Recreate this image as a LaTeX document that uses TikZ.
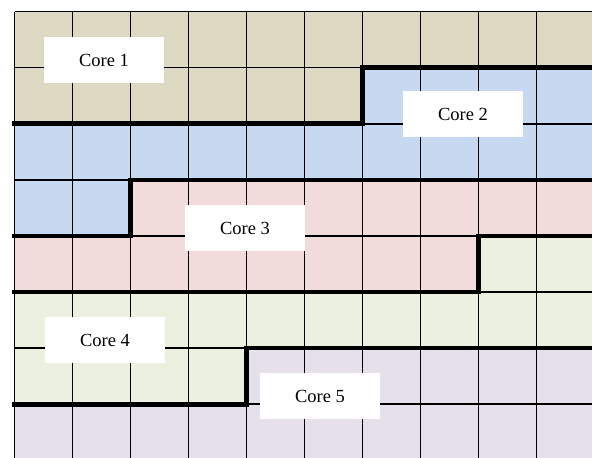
\documentclass[tikz,border=0pt]{standalone}
\usepackage{fontspec}
\setmainfont{Liberation Serif}
\definecolor{cone}{HTML}{DDD9C3}
\definecolor{ctwo}{HTML}{C6D9F1}
\definecolor{cthree}{HTML}{F2DCDB}
\definecolor{cfour}{HTML}{EBF1DE}
\definecolor{cfive}{HTML}{E5E0EC}
\tikzset{
  gridline/.style={black, line width=1.7pt},
  boundary/.style={black, line width=4.6pt, line join=miter, line cap=rect},
  corelabel/.style={fill=white, draw=none, minimum width=120pt, minimum height=46pt, inner sep=0pt, font=\fontsize{18.5}{22}\selectfont},
}
\begin{document}
\begin{tikzpicture}
\useasboundingbox (0,0) rectangle (592pt,-458pt);
\fill[white] (0,0) rectangle (592pt,-458pt);
\clip (0,0) rectangle (592pt,-458pt);
\begin{scope}[shift={(14.5pt,-11.5pt)}, x=58pt, y=-56.1pt]
  \def\R{10.5}
  \def\B{8.5}
  % regions
  \fill[cone] (0,0) -- (\R,0) -- (\R,1) -- (6,1) -- (6,2) -- (0,2) -- cycle;
  \fill[ctwo] (6,1) -- (\R,1) -- (\R,3) -- (2,3) -- (2,4) -- (0,4) -- (0,2) -- (6,2) -- cycle;
  \fill[cthree] (2,3) -- (\R,3) -- (\R,4) -- (8,4) -- (8,5) -- (0,5) -- (0,4) -- (2,4) -- cycle;
  \fill[cfour] (8,4) -- (\R,4) -- (\R,6) -- (4,6) -- (4,7) -- (0,7) -- (0,5) -- (8,5) -- cycle;
  \fill[cfive] (4,6) -- (\R,6) -- (\R,\B) -- (0,\B) -- (0,7) -- (4,7) -- cycle;
  % grid
  \foreach \i in {0,...,9} \draw[gridline] (\i,0) -- (\i,\B);
  \foreach \k in {0,...,7} \draw[gridline] (0,\k) -- (\R,\k);
  % core boundaries
  \draw[boundary] (0,2) -- (6,2) -- (6,1) -- (\R,1);
  \draw[boundary] (0,4) -- (2,4) -- (2,3) -- (\R,3);
  \draw[boundary] (0,5) -- (8,5) -- (8,4) -- (\R,4);
  \draw[boundary] (0,7) -- (4,7) -- (4,6) -- (\R,6);
\end{scope}
\node[corelabel] (c1) at (104pt,-60pt) {Core 1};
\node[corelabel] (c2) at (463pt,-114pt) {Core 2};
\node[corelabel] (c3) at (245pt,-228.3pt) {Core 3};
\node[corelabel] (c4) at (105pt,-340pt) {Core 4};
\node[corelabel] (c5) at (320pt,-396.3pt) {Core 5};
\end{tikzpicture}
\end{document}
